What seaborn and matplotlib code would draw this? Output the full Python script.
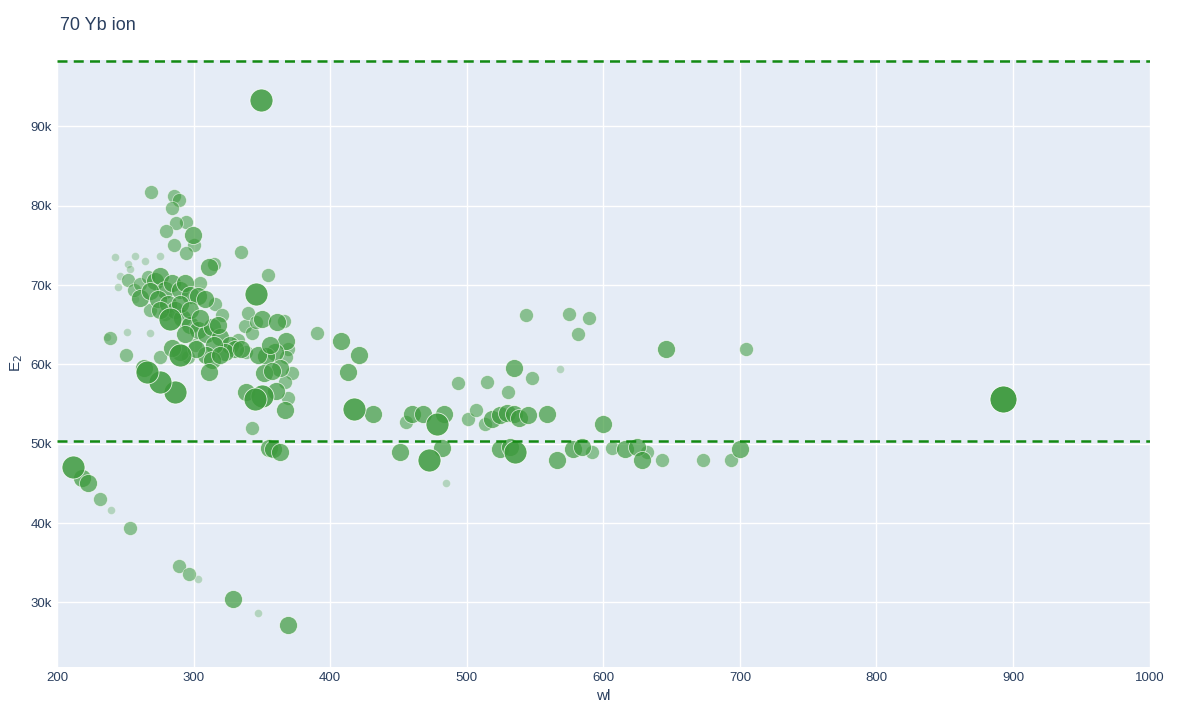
import matplotlib
matplotlib.use("Agg")
import matplotlib.pyplot as plt
import seaborn as sns
import pandas as pd
from matplotlib.ticker import FuncFormatter

# (wl, E2 in thousands, strength level 1-5)
wl = [349.3,268.8,285.6,289.3,284.2,294.4,287.1,279.8,299.6,285.6,300.3,334.7,294.4,242.5,257.1,275.4,264.4,252.0,311.3,314.9,354.5,345.7,
      246.1,252.0,244.7,256.4,260.8,266.6,271.7,275.4,279.1,284.2,290.0,293.7,297.4,303.2,308.3,315.7,320.8,260.8,268.1,273.9,281.3,286.4,291.5,297.4,303.2,309.1,313.5,319.3,326.6,332.5,337.6,342.7,350.1,361.0,366.2,367.6,369.1,359.6,353.0,347.1,338.3,330.3,323.0,314.9,309.1,313.5,311.3,290.0,286.4,275.4,265.9,263.7,250.5,236.6,238.8,251.2,268.1,339.8,350.1,344.9,338.3,363.2,367.6,372.0,366.9,369.1,366.9,360.3,351.2,357.1,342.7,355.2,358.1,363.2,
      275.4,282.7,290.0,297.4,304.7,301.8,290.0,284.2,293.7,279.1,268.1,257.1,253.4,304.7,301.0,317.9,319.3,334.7,355.9,345.7,275.4,295.9,
      390.3,407.9,421.1,413.0,417.4,431.3,451.1,455.5,459.9,468.0,478.2,483.3,472.3,481.8,484.7,493.5,500.8,506.7,514.8,513.3,518.4,524.3,529.4,534.5,538.2,544.8,524.3,531.6,535.3,530.2,534.5,547.7,543.3,558.7,568.2,574.8,581.4,589.4,565.9,577.6,584.2,591.6,599.7,606.3,615.8,624.6,628.3,632.0,643.0,645.8,672.9,693.4,700.0,704.3,892.5,
      211.7,218.3,222.7,231.5,239.5,253.4,289.3,296.6,303.2,328.8,347.1,369.1]
E2 = [93.3,81.7,81.2,80.7,79.7,77.9,77.8,76.8,76.3,75.1,75.0,74.2,74.0,73.6,73.7,73.7,73.0,72.7,72.3,72.7,71.3,68.9,
      71.1,70.7,69.7,69.4,70.1,71.0,70.5,71.2,69.4,70.3,69.4,70.3,68.8,68.6,68.2,67.6,66.2,68.4,69.2,68.2,67.6,66.9,65.9,65.0,64.4,63.8,64.7,63.4,62.5,63.1,64.8,63.9,65.7,65.3,65.5,63.0,61.9,61.6,61.0,61.2,61.6,62.0,61.6,62.4,61.2,60.6,59.0,61.6,56.5,57.8,59.1,59.5,61.2,63.5,63.3,64.1,64.0,66.5,56.0,55.7,56.5,59.5,60.9,58.9,57.8,55.8,54.3,56.6,58.9,59.2,52.0,49.5,49.3,48.9,
      66.9,65.7,67.6,66.9,65.9,61.9,61.2,62.1,63.8,66.3,66.9,68.2,72.0,70.3,62.5,65.0,61.2,61.9,62.5,65.4,60.9,60.9,
      64.0,62.9,61.2,59.0,54.4,53.8,48.9,52.7,53.7,53.8,52.5,53.8,48.0,49.5,45.0,57.7,53.1,54.3,57.8,52.5,53.1,53.6,53.9,53.8,53.2,53.6,49.4,49.6,48.9,56.5,59.6,58.3,66.2,53.8,59.4,66.4,63.8,65.9,47.9,49.4,49.6,48.9,52.5,49.5,49.4,49.6,47.9,48.9,47.9,61.9,47.9,47.9,49.3,61.9,55.7,
      47.1,45.7,45.0,43.1,41.7,39.4,34.6,33.6,33.0,30.4,28.7,27.1]
level = [4,2,2,2,2,2,2,2,3,2,2,2,2,1,1,1,1,1,3,2,2,4,
         1,2,1,2,2,2,3,3,3,3,3,3,3,3,3,2,2,3,3,3,3,3,3,3,3,3,3,3,3,2,2,2,3,3,2,3,2,3,3,3,2,3,3,3,3,3,3,3,4,4,4,3,2,1,2,1,1,2,4,4,3,3,2,2,2,2,3,3,3,3,2,3,3,3,
         3,4,3,3,3,3,4,3,3,2,2,1,1,2,2,3,3,3,3,2,2,2,
         2,3,3,3,4,3,3,2,3,3,4,3,4,3,1,2,2,2,2,2,3,3,3,3,3,3,3,3,4,2,3,2,2,3,1,2,2,2,3,3,3,2,3,2,3,3,3,2,2,3,2,2,3,2,5,
         4,3,3,2,1,2,2,2,1,3,1,3]
hlines = [98.2, 50.4]

df = pd.DataFrame({"wl": wl, "E2": [e * 1000 for e in E2], "level": level})
diam = {1: 8, 2: 14, 3: 18, 4: 23, 5: 27}
alph = {1: 0.3, 2: 0.55, 3: 0.7, 4: 0.85, 5: 0.95}

sns.set_theme(style="darkgrid", rc={"axes.facecolor": "#E5ECF6", "grid.color": "white"})
plt.rcParams['font.family'] = ['Liberation Sans', 'DejaVu Sans']
fig = plt.figure(figsize=(12, 7.2), dpi=100)
ax = fig.add_axes([0.0475, 0.074, 0.9105, 0.843])
for lv in sorted(diam):
    sub = df[df.level == lv]
    sns.scatterplot(data=sub, x="wl", y="E2", ax=ax, s=(0.72 * diam[lv]) ** 2,
                    color="#3d9a3d", alpha=alph[lv], edgecolor="white", linewidth=0.6, legend=False, zorder=3)
for h in hlines:
    ax.axhline(h * 1000, color="#138a13", ls=(0, (4, 2.5)), lw=1.8, zorder=4)
ax.set_xlim(200, 1000)
ax.set_ylim(21900, 98400)
ax.set_xticks(range(200, 1001, 100))
ax.set_yticks(range(30000, 90001, 10000))
ax.yaxis.set_major_formatter(FuncFormatter(lambda v, p: f"{int(v/1000)}k"))
for s in ax.spines.values():
    s.set_visible(False)
ax.tick_params(colors="#2a3f5f", labelsize=9.5, length=0)
ax.set_xlabel("wl", color="#2a3f5f", fontsize=11)
ax.set_ylabel("E$_2$", color="#2a3f5f", fontsize=11)
fig.text(0.05, 0.965, "70 Yb ion", color="#2a3f5f", fontsize=13, va="center")
fig.savefig("out.png")
